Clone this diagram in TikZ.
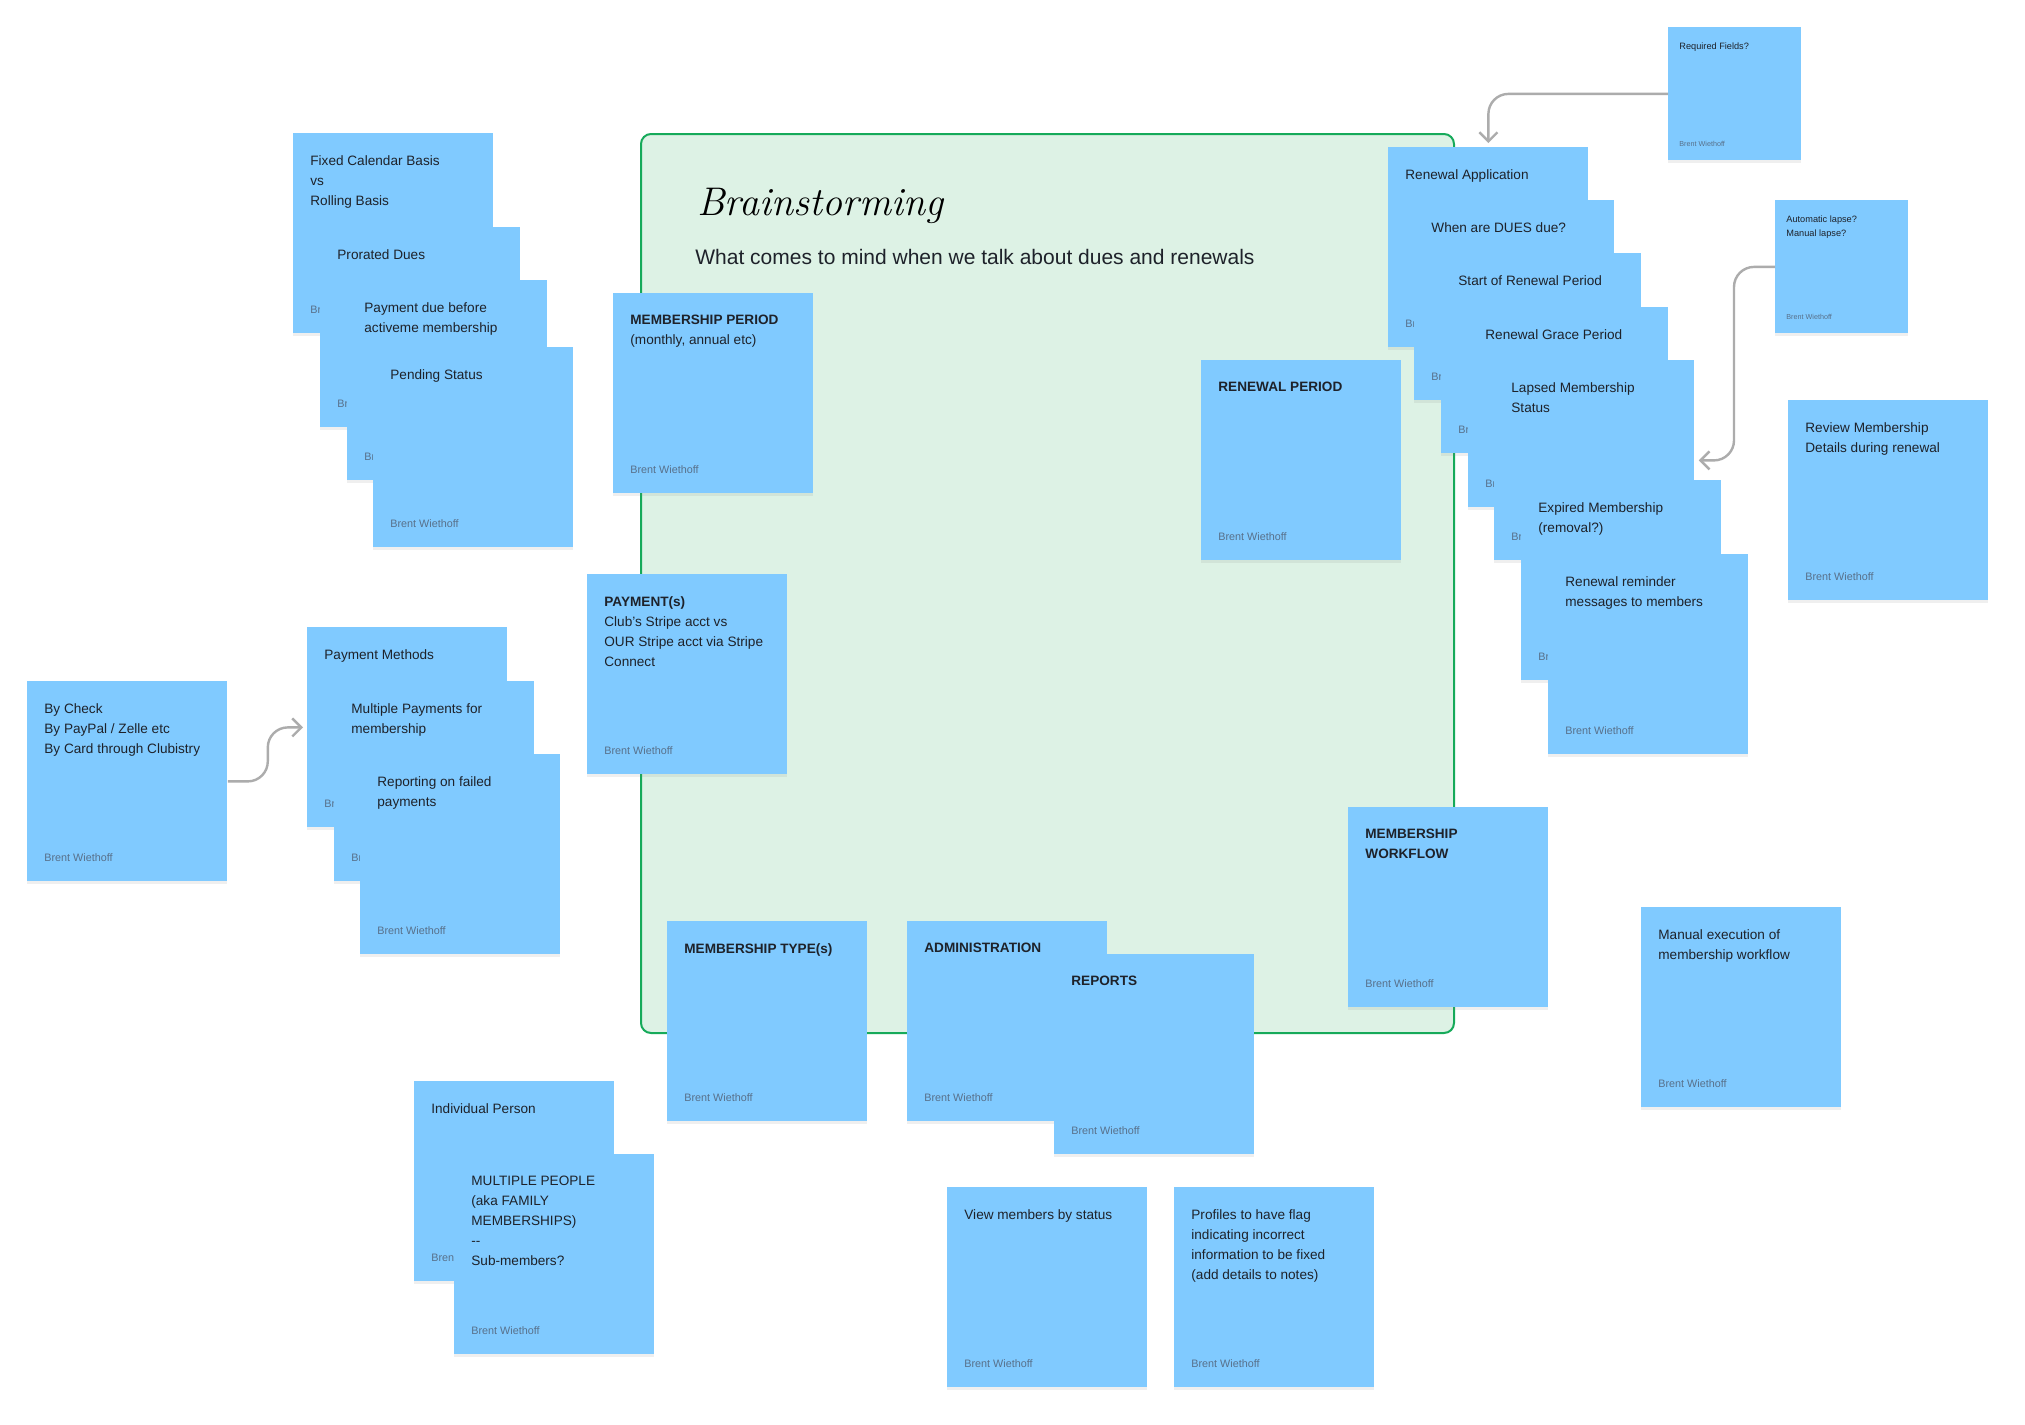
\documentclass[tikz,border=0pt]{standalone}
\usepackage{fontspec}
\newfontfamily\notefont{Liberation Sans}
\usepackage{tikz}
\usetikzlibrary{calc,shadows,arrows.meta}

\definecolor{notebg}{RGB}{128,202,255}
\definecolor{notefg}{RGB}{30,34,42}
\definecolor{noteby}{RGB}{88,112,138}
\definecolor{framebg}{RGB}{221,242,229}
\definecolor{frameln}{RGB}{22,170,90}
\definecolor{linkgray}{RGB}{172,172,172}

\begin{document}
\begin{tikzpicture}[x=0.5pt,y=-0.5pt,
  sticky/.style={fill=notebg,anchor=north west,minimum width=100pt,minimum height=100pt,inner sep=0pt,
    drop shadow={shadow xshift=0pt,shadow yshift=-1.5pt,opacity=0.12}},
  smallsticky/.style={sticky,minimum width=66.5pt,minimum height=66.5pt},
  notetext/.style={anchor=north west,inner sep=0pt,align=left,text=notefg,font=\notefont\fontsize{6.8pt}{10pt}\selectfont},
  smalltext/.style={notetext,font=\notefont\fontsize{4.6pt}{7pt}\selectfont},
  byline/.style={anchor=west,inner sep=0pt,text=noteby,font=\notefont\fontsize{5.4pt}{6pt}\selectfont},
  smallby/.style={byline,font=\notefont\fontsize{3.6pt}{4pt}\selectfont},
  link/.style={draw=linkgray,line width=1.2pt,rounded corners=10pt,-{Straight Barb[length=4.5pt,width=9pt]}}]
\useasboundingbox (0,0) rectangle (2025,1425);
\fill[white] (0,0) rectangle (2025,1425);

% board
\draw[frameln,fill=framebg,line width=1pt,rounded corners=5pt] (641,134) rectangle (1454,1033);
\node[anchor=base west,inner sep=0pt,font=\itshape\fontsize{20pt}{20pt}\selectfont] (title) at (697,215) {Brainstorming};
\node[anchor=base west,inner sep=0pt,text=notefg,font=\notefont\fontsize{10.5pt}{12pt}\selectfont] (subtitle) at (695,264) {What comes to mind when we talk about dues and renewals};

% stickies, back to front
\foreach \n/\x/\y/\t in {
  fixed/293/133/{Fixed Calendar Basis\\vs\\Rolling Basis},
  prorated/320/227/{Prorated Dues},
  paydue/347/280/{Payment due before\\activeme membership},
  pending/373/347/{Pending Status},
  period/613/293/{\textbf{MEMBERSHIP PERIOD}\\(monthly, annual etc)},
  payment/587/574/{\textbf{PAYMENT(s)}\\Club’s Stripe acct vs\\OUR Stripe acct via Stripe\\Connect},
  renperiod/1201/360/{\textbf{RENEWAL PERIOD}},
  renapp/1388/147/{Renewal Application},
  duesdue/1414/200/{When are DUES due?},
  renstart/1441/253/{Start of Renewal Period},
  grace/1468/307/{Renewal Grace Period},
  lapsed/1494/360/{Lapsed Membership\\Status},
  expired/1521/480/{Expired Membership\\(removal?)},
  reminder/1548/554/{Renewal reminder\\messages to members},
  review/1788/400/{Review Membership\\Details during renewal},
  check/27/681/{By Check\\By PayPal / Zelle etc\\By Card through Clubistry},
  paymeth/307/627/{Payment Methods},
  multipay/334/681/{Multiple Payments for\\membership},
  failed/360/754/{Reporting on failed\\payments},
  types/667/921/{\textbf{MEMBERSHIP TYPE(s)}},
  admin/907/921/{\textbf{ADMINISTRATION}},
  reports/1054/954/{\textbf{REPORTS}},
  workflow/1348/807/{\textbf{MEMBERSHIP}\\\textbf{WORKFLOW}},
  manual/1641/907/{Manual execution of\\membership workflow},
  single/414/1081/{Individual Person},
  family/454/1154/{MULTIPLE PEOPLE\\(aka FAMILY\\MEMBERSHIPS)\\-{}-\\Sub-members?},
  viewstatus/947/1187/{View members by status},
  profiles/1174/1187/{Profiles to have flag\\indicating incorrect\\information to be fixed\\(add details to notes)}}
{
  \node[sticky] (\n) at (\x,\y) {};
  \node[notetext] at ($(\n.north west)+(17,22)$) {\t};
  \node[byline] at ($(\n.north west)+(17,177)$) {Brent Wiethoff};
}

\node[smallsticky] (required) at (1668,27) {};
\node[smalltext] at ($(required.north west)+(11,15)$) {Required Fields?};
\node[smallby] at ($(required.north west)+(11,117)$) {Brent Wiethoff};
\node[smallsticky] (lapse) at (1775,200) {};
\node[smalltext] at ($(lapse.north west)+(11,15)$) {Automatic lapse?\\Manual lapse?};
\node[smallby] at ($(lapse.north west)+(11,117)$) {Brent Wiethoff};

% connectors
\draw[link] (required.west) -| ([yshift=2pt]renapp.north);
\draw[link] (lapse.west) -- ++(-41,0) |- ([xshift=2pt]lapsed.east);
\draw[link] (check.east) -- ++(40,0) |- ([xshift=-2pt]paymeth.west);
\end{tikzpicture}
\end{document}
